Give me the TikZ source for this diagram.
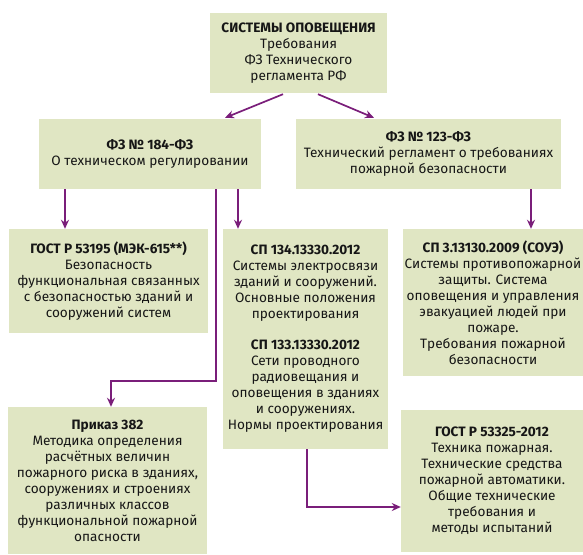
\documentclass[tikz,border=0pt]{standalone}
\usepackage{fontspec}
\setmainfont{Fira Sans}
\usetikzlibrary{arrows.meta}

\definecolor{boxfill}{RGB}{224,230,195}
\definecolor{linkcol}{RGB}{122,30,122}
\definecolor{textcol}{RGB}{22,22,22}

\begin{document}
\begin{tikzpicture}[x=1pt, y=-1pt,
	box/.style={fill=boxfill, text=textcol, align=center, inner sep=0pt, font=\fontsize{13.6}{16}\selectfont},
	link/.style={draw=linkcol, line width=1.7pt, -{Stealth[length=9pt,width=8pt]}}]
	\useasboundingbox (0,0) rectangle (583,554);

	% TOP ROW
	\node [box, minimum width=177pt, minimum height=80pt] at (298.5,53) (top) {\textbf{СИСТЕМЫ ОПОВЕЩЕНИЯ}\\Требования\\ФЗ Технического\\регламента РФ};

	% Laws
	\node [box, minimum width=222pt, minimum height=70pt] at (150,154) (fz184) {\textbf{ФЗ № 184-ФЗ}\\О техническом регулировании};
	\node [box, minimum width=265pt, minimum height=70pt] at (428.5,154) (fz123) {\textbf{ФЗ № 123-ФЗ}\\Технический регламент о требованиях\\пожарной безопасности};

	\draw [link] ([xshift=-15.5pt,yshift=-1pt]top.south) -- ([xshift=75pt,yshift=1pt]fz184.north);
	\draw [link] ([xshift=19.5pt,yshift=-1pt]top.south) -- ([xshift=-54.5pt,yshift=1pt]fz123.north);

	% MIDDLE ROW
	\node [box, minimum width=199pt, minimum height=104pt] at (108.5,281) (gost53195) {\textbf{ГОСТ Р 53195 (МЭК-615**)}\\Безопасность\\функциональная связанных\\с безопасностью зданий и\\сооружений систем};
	\node [box, minimum width=165pt, minimum height=220pt] at (305.5,339) (sp134) {\textbf{СП 134.13330.2012}\\Системы электросвязи\\зданий и сооружений.\\Основные положения\\проектирования\\[15pt]\textbf{СП 133.13330.2012}\\Сети проводного\\радиовещания и\\оповещения в зданиях\\и сооружениях.\\Нормы проектирования};
	\node [box, minimum width=180pt, minimum height=147pt] at (493,302.5) (sp3) {\textbf{СП 3.13130.2009 (СОУЭ)}\\Системы противопожарной\\защиты. Система\\оповещения и управления\\эвакуацией людей при\\пожаре.\\Требования пожарной\\безопасности};

	\draw [link] ([xshift=-85pt]fz184.south) -- ([xshift=-85pt]fz184.south |- gost53195.north);
	\draw [link] ([xshift=88pt]fz184.south) -- ([xshift=88pt]fz184.south |- sp134.north);
	\draw [link] ([xshift=102.5pt]fz123.south) -- ([xshift=102.5pt]fz123.south |- sp3.north);

	% BOTTOM ROW
	\node [box, minimum width=199pt, minimum height=147pt] at (107.5,480.5) (prikaz) {\textbf{Приказ 382}\\Методика определения\\расчётных величин\\пожарного риска в зданиях,\\сооружениях и строениях\\различных классов\\функциональной пожарной\\опасности};
	\node [box, minimum width=182pt, minimum height=142pt] at (492,481) (gost53325) {\textbf{ГОСТ Р 53325-2012}\\Техника пожарная.\\Технические средства\\пожарной автоматики.\\Общие технические\\требования и\\методы испытаний};

	% Bends
	\coordinate (bend) at (216,381);
	\draw [link] ([xshift=66pt]fz184.south) -- (bend) -| ([xshift=3.5pt]prikaz.north);
	\draw [link] ([xshift=1.5pt]sp134.south) |- ([yshift=-26pt]gost53325.west);
\end{tikzpicture}
\end{document}
